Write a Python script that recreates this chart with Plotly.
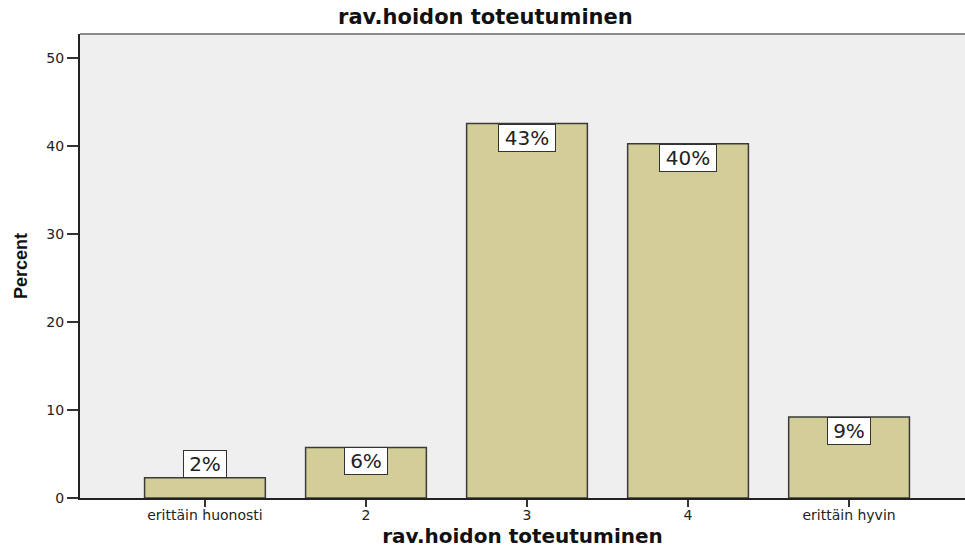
import plotly.graph_objects as go

# Frequencies (n = 87), shown as percent
categories = ["erittäin huonosti", "2", "3", "4", "erittäin hyvin"]
counts = [2, 5, 37, 35, 8]
total = sum(counts)
percent = [100 * c / total for c in counts]
labels = [f"{p:.0f}%" for p in percent]

title_text = "rav.hoidon toteutuminen"
y_title = "Percent"
y_ticks = [0, 10, 20, 30, 40, 50]

BAR_FILL = "#d3ce98"
BAR_LINE = "#3a3a3a"
PLOT_BG = "#efefef"

fig = go.Figure()

fig.add_trace(
    go.Bar(
        x=categories,
        y=percent,
        marker=dict(color=BAR_FILL, line=dict(color=BAR_LINE, width=1.5)),
        width=0.75,
        showlegend=False,
        hoverinfo="skip",
    )
)

# Boxed percent labels: inside the bar top, or above it when the bar is too short
for i, (p, lab) in enumerate(zip(percent, labels)):
    fig.add_annotation(
        x=i,
        y=p,
        text=lab,
        showarrow=False,
        yanchor="bottom" if p < 4 else "top",
        font=dict(family="DejaVu Sans", size=20, color="#222222"),
        bgcolor="white",
        bordercolor="#333333",
        borderwidth=1,
        borderpad=2,
        width=14 * len(lab) + 10,
        height=22,
    )

# grey frame line along the top of the plot area
fig.add_shape(
    type="line", xref="paper", yref="paper", x0=0, x1=1, y0=1, y1=1,
    line=dict(color="#8a8a8a", width=2),
)

fig.update_layout(
    width=965,
    height=549,
    margin=dict(l=80, r=0, t=34, b=51),
    paper_bgcolor="white",
    plot_bgcolor=PLOT_BG,
    title=dict(
        text=title_text,
        x=0.503,
        xref="container",
        y=0.970,
        yref="container",
        xanchor="center",
        yanchor="middle",
        font=dict(family="DejaVu Sans", size=21, color="#111111", weight="bold"),
    ),
    font=dict(family="DejaVu Sans", color="#222222"),
)

fig.update_xaxes(
    type="category",
    range=[-0.776, 4.72],
    automargin=False,
    showline=True,
    linecolor="#222222",
    linewidth=2,
    ticks="outside",
    ticklen=7,
    tickwidth=2,
    tickcolor="#333333",
    ticklabelstandoff=-4,
    tickfont=dict(family="DejaVu Sans", size=14, color="#222222"),
    showgrid=False,
    title=dict(
        text=title_text,
        font=dict(family="DejaVu Sans", size=20, color="#111111", weight="bold"),
        standoff=7,
    ),
)

fig.update_yaxes(
    range=[0, 52.7],
    automargin=False,
    tickvals=y_ticks,
    showline=True,
    linecolor="#222222",
    linewidth=2,
    ticks="outside",
    ticklen=11,
    tickwidth=1.5,
    tickcolor="#333333",
    tickfont=dict(family="DejaVu Sans", size=14, color="#222222"),
    showgrid=False,
    zeroline=False,
    title=dict(
        text=y_title,
        font=dict(family="Liberation Sans Narrow, Liberation Sans", size=18,
                  color="#111111", weight="bold"),
        standoff=14,
    ),
)

# drop the default page margin so the figure sits at the window corner
fig.write_html(
    "out.html",
    config={"displayModeBar": False},
    post_script="document.body.style.margin = '0';",
)
